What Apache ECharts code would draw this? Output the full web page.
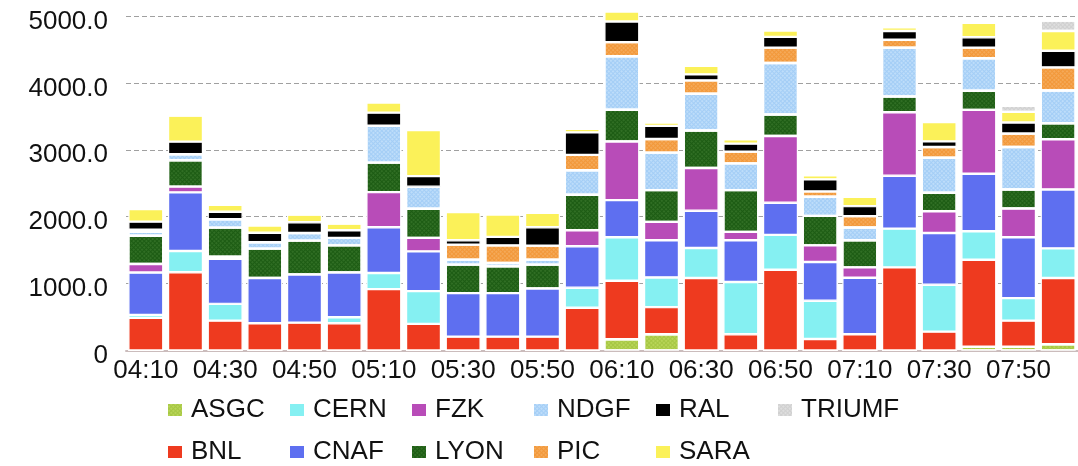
<!DOCTYPE html>
<html>
<head>
<meta charset="utf-8">
<script src="https://cdn.jsdelivr.net/npm/echarts@6/dist/echarts.min.js"></script>
<style>
  html, body { margin: 0; padding: 0; background: #fff; }
  #chart { width: 1078px; height: 466px; }
</style>
</head>
<body>
<div id="chart"></div>
<script>
// time slots (10 min)
const times = ['04:10', '04:20', '04:30', '04:40', '04:50', '05:00', '05:10', '05:20',
  '05:30', '05:40', '05:50', '06:00', '06:10', '06:20', '06:30', '06:40',
  '06:50', '07:00', '07:10', '07:20', '07:30', '07:40', '07:50', '08:00']

// stacked values per site, bottom to top
const asgc = [0, 0, 0, 0, 0, 0, 0, 0, 0, 0, 0, 0, 168, 243, 0, 0, 0, 0, 0, 0, 0, 57, 57, 93]
const bnl = [487, 1170, 447, 408, 417, 408, 918, 398, 207, 207, 207, 638, 875, 405, 1083, 243, 1208, 173, 243, 1242, 282, 1300, 390, 990]
const cern = [45, 318, 250, 0, 0, 90, 240, 490, 0, 0, 0, 300, 650, 444, 450, 780, 520, 570, 0, 580, 700, 425, 336, 444]
const cnaf = [633, 875, 675, 675, 720, 669, 684, 594, 651, 651, 720, 620, 555, 555, 555, 624, 480, 580, 845, 790, 775, 861, 909, 880]
const fzk = [127, 86, 30, 0, 0, 0, 525, 201, 0, 0, 0, 240, 876, 276, 639, 126, 999, 249, 155, 950, 324, 954, 430, 750]
const lyon = [424, 395, 435, 440, 505, 405, 441, 435, 425, 400, 356, 531, 474, 474, 561, 624, 321, 441, 405, 235, 276, 285, 285, 240]
const ndgf = [60, 90, 125, 95, 115, 111, 552, 330, 75, 50, 75, 365, 801, 561, 549, 400, 770, 285, 190, 729, 525, 486, 635, 490]
const pic = [30, 0, 0, 0, 0, 0, 0, 0, 225, 264, 210, 230, 210, 204, 201, 175, 230, 80, 170, 120, 159, 159, 201, 345]
const ral = [120, 188, 111, 141, 160, 114, 195, 159, 65, 126, 275, 336, 309, 195, 90, 120, 160, 180, 150, 130, 85, 156, 165, 249]
const sara = [187, 390, 105, 110, 115, 100, 153, 690, 420, 335, 216, 54, 150, 51, 129, 65, 95, 60, 141, 55, 290, 215, 159, 295]
const triumf = [0, 0, 0, 0, 0, 0, 0, 0, 0, 0, 0, 0, 0, 0, 0, 0, 0, 0, 0, 0, 0, 0, 90, 155]

const yTicks = [0, 1000, 2000, 3000, 4000, 5000]
const legendOrder = ['ASGC', 'CERN', 'FZK', 'NDGF', 'RAL', 'TRIUMF', 'BNL', 'CNAF', 'LYON', 'PIC', 'SARA']

const font = 'Liberation Sans, Arial, Helvetica, sans-serif'

function dots(color) {
  return { symbol: 'rect', symbolSize: 0.7, color: color, dashArrayX: [2, 1], dashArrayY: [2, 1], rotation: Math.PI / 4 }
}

const sites = [
  { name: 'ASGC', data: asgc, color: '#a6c744', decal: dots('rgba(215,235,120,0.7)') },
  { name: 'BNL', data: bnl, color: '#ee3a1f' },
  { name: 'CERN', data: cern, color: '#85f0f2' },
  { name: 'CNAF', data: cnaf, color: '#5e6ff0' },
  { name: 'FZK', data: fzk, color: '#b84cb8' },
  { name: 'LYON', data: lyon, color: '#1d5c14', decal: dots('rgba(90,150,70,0.6)') },
  { name: 'NDGF', data: ndgf, color: '#a4cef6', decal: dots('rgba(225,240,255,0.8)') },
  { name: 'PIC', data: pic, color: '#f2983a', decal: dots('rgba(250,200,140,0.7)') },
  { name: 'RAL', data: ral, color: '#000000' },
  { name: 'SARA', data: sara, color: '#fbf159' },
  { name: 'TRIUMF', data: triumf, color: '#d0d0d0', decal: dots('rgba(240,240,240,0.8)') }
]

const chart = echarts.init(document.getElementById('chart'), null, { renderer: 'canvas' })

const option = {
  animation: false,
  backgroundColor: '#fff',
  grid: { left: 126, top: 16, width: 961, height: 334.5 },
  legend: {
    data: legendOrder,
    left: 166,
    top: 395,
    width: 790,
    padding: 0,
    itemWidth: 16,
    itemHeight: 14,
    itemGap: 12,
    icon: 'rect',
    textStyle: {
      fontFamily: font,
      fontSize: 26,
      color: '#111',
      width: 85,
      lineHeight: 30,
      padding: [0, 0, 0, 3]
    }
  },
  xAxis: {
    type: 'category',
    data: times,
    axisLine: { lineStyle: { color: '#cbbcbc', width: 2 } },
    axisTick: { show: false },
    axisLabel: {
      interval: 1,
      margin: 7,
      fontFamily: font,
      fontSize: 26,
      color: '#111'
    }
  },
  yAxis: {
    type: 'value',
    min: yTicks[0],
    max: yTicks[yTicks.length - 1],
    interval: 1000,
    axisLine: { show: false },
    axisTick: { show: false },
    splitLine: { lineStyle: { color: '#a0a0a0', type: [5, 3], width: 1 } },
    axisLabel: {
      margin: 18,
      fontFamily: font,
      fontSize: 26,
      color: '#111',
      verticalAlign: 'top',
      lineHeight: 11,
      formatter: v => (v === 0 ? '0' : v.toFixed(1))
    }
  },
  series: sites.map(s => ({
    name: s.name,
    type: 'bar',
    stack: 'total',
    clip: false,
    barWidth: 35,
    data: s.data,
    itemStyle: {
      color: s.color,
      borderColor: '#fff',
      borderWidth: 1.2,
      decal: s.decal
    }
  }))
}

chart.setOption(option)
</script>
</body>
</html>
